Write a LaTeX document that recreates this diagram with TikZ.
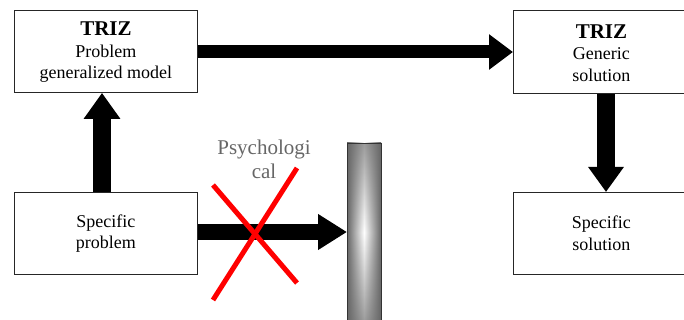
\documentclass[tikz,border=0pt]{standalone}
\usepackage{fontspec}
\setmainfont{Liberation Serif}
\newfontfamily\boxfont{Liberation Serif}
\usetikzlibrary{arrows.meta,fadings}
\tikzfading[name=vfade, top color=transparent!35, bottom color=transparent!35, middle color=transparent!100]
\begin{document}
\begin{tikzpicture}[x=1pt,y=-1pt,
  box/.style={draw=black!85,line width=0.9pt,fill=white,inner sep=0pt},
  txt/.style={align=center,font=\boxfont\fontsize{18}{21.5}\selectfont},
]
\useasboundingbox (0,0) rectangle (684,320);
\node[box,minimum width=183pt,minimum height=82pt,anchor=north west] (pgm) at (14,10) {};
\node[box,minimum width=176pt,minimum height=83pt,anchor=north west] (gs) at (513,10) {};
\node[box,minimum width=183pt,minimum height=82pt,anchor=north west] (sp) at (14,192) {};
\node[box,minimum width=176pt,minimum height=82pt,anchor=north west] (ss) at (513,192) {};
\node[txt] at ([yshift=-1pt]pgm.center) {{\fontsize{21}{21.5}\selectfont\bfseries TRIZ}\\Problem\\generalized model};
\node[txt] at ([yshift=-1pt]gs.center) {{\fontsize{21}{21.5}\selectfont\bfseries TRIZ}\\Generic\\solution};
\node[txt] at (sp.center) {Specific\\problem};
\node[txt] at (ss.center) {Specific\\solution};
% barrier
\path[left color=black!60,right color=black!60,middle color=white] (347,143) rectangle (381,322);
\fill[black!60,path fading=vfade] (347,143) rectangle (381,322);
\draw[black!80,line width=0.9pt] (347,143) rectangle (381,322);
\coordinate (bar) at (347,232);
% arrows
\draw[line width=13pt,-{Triangle[length=24pt,width=34pt]}] (pgm.east |- 0,52) -- (gs.west |- 0,52);
\draw[line width=18pt,-{Triangle[length=26pt,width=35pt]}] (sp.north -| 102,0) -- (pgm.south -| 102,0);
\draw[line width=18pt,-{Triangle[length=25pt,width=34pt]}] (gs.south -| 606,0) -- (ss.north -| 606,0);
\draw[line width=16pt,-{Triangle[length=29pt,width=34pt]}] (sp.east |- bar) -- (bar);
% red cross
\draw[red,line width=5pt] (213,185) -- (297,283);
\draw[red,line width=5pt] (297,168) -- (213,300);
\node[align=center,text=black!60,font=\boxfont\fontsize{21}{24}\selectfont] (psy) at (264,159) {Psychologi\\cal};
\end{tikzpicture}
\end{document}
